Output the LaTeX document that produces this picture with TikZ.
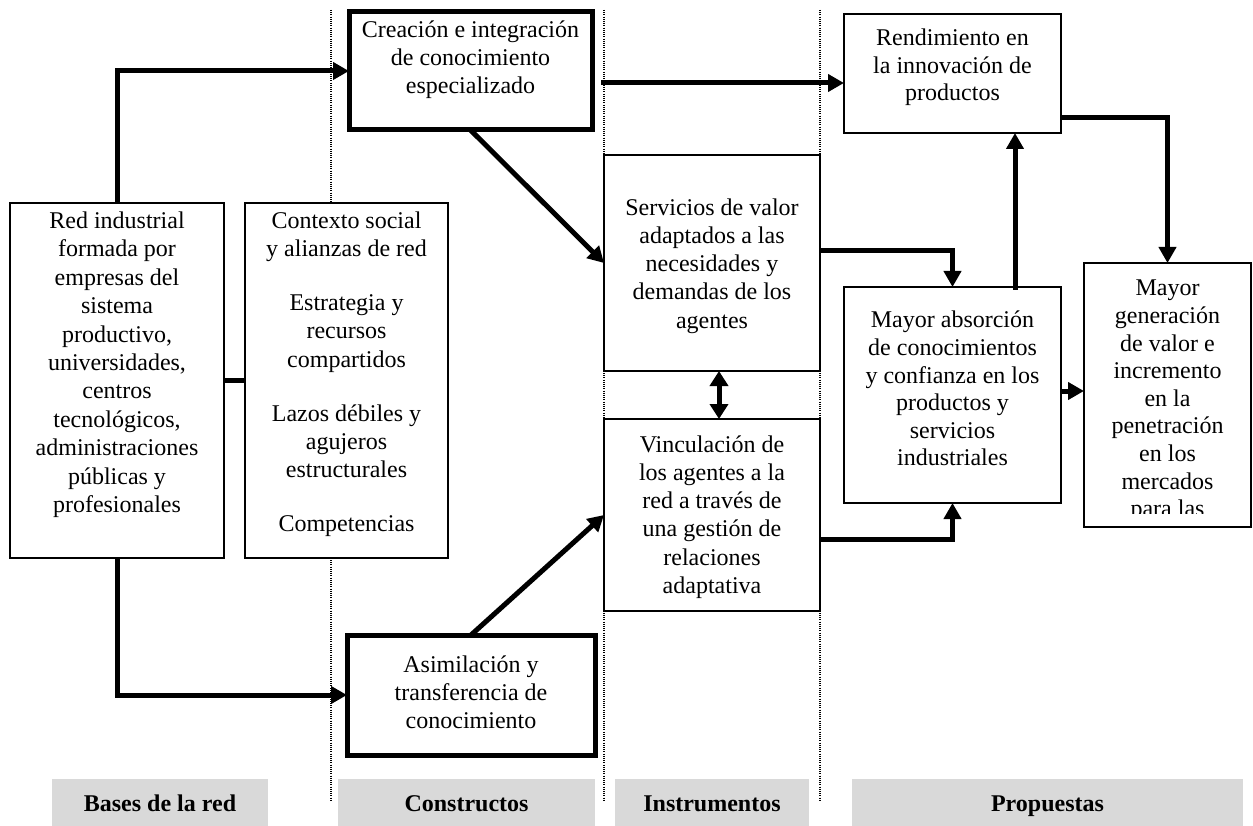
\documentclass[tikz,border=0pt]{standalone}
\usepackage{fontspec}
\setmainfont{Liberation Serif}
\usetikzlibrary{arrows.meta,calc}
\definecolor{bandgray}{HTML}{D9D9D9}
\begin{document}
\begin{tikzpicture}[x=1pt,y=-1pt,
  box/.style={draw, line width=1.5pt, fill=white, inner sep=0pt, outer sep=0pt},
  thickbox/.style={box, line width=5pt},
  txt/.style={align=center, inner sep=0pt, anchor=north, font=\fontsize{24}{28.2}\selectfont},
  arr/.style={line width=5pt, -{Triangle[length=16pt,width=17pt]}},
  dbl/.style={line width=5pt, {Triangle[length=15pt,width=18pt]}-{Triangle[length=15pt,width=18pt]}},
  conn/.style={line width=5pt},
  sep/.style={line width=1.3pt, dash pattern=on 1pt off 1.2pt},
  band/.style={fill=bandgray, inner sep=0pt, outer sep=0pt},
  bandtxt/.style={font=\fontsize{24}{28}\selectfont\bfseries, anchor=base, inner sep=0pt}]
\useasboundingbox (0,0) rectangle (1253,826);

% column separators
\draw[sep] (331,10) -- (331,800);
\draw[sep] (604,10) -- (604,802);
\draw[sep] (820,10) -- (820,802);

% boxes
\node[box, minimum width=214pt, minimum height=355pt] (A) at (117,380.5) {};
\node[box, minimum width=203pt, minimum height=355pt] (B) at (346.5,380.5) {};
\node[thickbox, minimum width=243pt, minimum height=118pt] (C) at (470.5,71) {};
\node[box, minimum width=216pt, minimum height=216pt] (D) at (712,263) {};
\node[box, minimum width=216pt, minimum height=192pt] (E) at (712,515) {};
\node[box, minimum width=217pt, minimum height=119pt] (F) at (952.5,73.5) {};
\node[box, minimum width=217pt, minimum height=216pt] (G) at (952.5,395) {};
\node[box, minimum width=167pt, minimum height=264pt] (H) at (1167.5,395) {};
\node[thickbox, minimum width=248pt, minimum height=120pt] (I) at (471,695) {};

% texts
\node[txt, font=\fontsize{24}{28.4}\selectfont] (At) at (117,208.4) {\strut Red industrial\\formada por\\empresas del\\sistema\\productivo,\\universidades,\\centros\\tecnológicos,\\administraciones\\públicas y\\profesionales};
\node[txt] (Bt) at (346.5,208.4) {\strut Contexto social\\y alianzas de red\\[26pt]Estrategia y\\recursos\\compartidos\\[26pt]Lazos débiles y\\agujeros\\estructurales\\[26pt]Competencias};
\node[txt] (Ct) at (470.5,17.4) {\strut Creación e integración\\de conocimiento\\especializado};
\node[txt] (Dt) at (712,195.4) {\strut Servicios de valor\\adaptados a las\\necesidades y\\demandas de los\\agentes};
\node[txt] (Et) at (712,432.4) {\strut Vinculación de\\los agentes a la\\red a través de\\una gestión de\\relaciones\\adaptativa};
\node[txt, font=\fontsize{24}{27.4}\selectfont] (Ft) at (952.5,26.4) {\strut Rendimiento en\\la innovación de\\productos};
\node[txt, font=\fontsize{24}{27.6}\selectfont] (Gt) at (952.5,308.4) {\strut Mayor absorción\\de conocimientos\\y confianza en los\\productos y\\servicios\\industriales};
\begin{scope}
\clip (1084,263) rectangle (1252,513);
\node[txt, font=\fontsize{24}{27.6}\selectfont] (Ht) at (1167.5,276.4) {\strut Mayor\\generación\\de valor e\\incremento\\en la\\penetración\\en los\\mercados\\para las};
\end{scope}
\node[txt] (It) at (471,652.4) {\strut Asimilación y\\transferencia de\\conocimiento};

% connectors
\draw[conn] (A.east) -- (B.west);
\draw[arr] (A.north) |- (C.west);
\draw[arr] (A.south) |- (I.west);
\draw[arr] (C.south) -- (D.west);
\draw[arr] (I.north) -- (E.west);
\draw[dbl] ([xshift=7pt]D.south) -- ([xshift=7pt]E.north);
\draw[arr] ([xshift=9pt,yshift=-12pt]C.east) -- ([yshift=-9.5pt]F.west);
\draw[arr] ([yshift=12pt]D.east) -| (G.north);
\draw[arr] ([yshift=-24pt]E.east) -| (G.south);
\draw[arr] ([xshift=62.5pt,yshift=-3pt]G.north) -- ([xshift=62.5pt]G.north |- F.south);
\draw[arr] ([yshift=-44.5pt]F.east) -| (H.north);
\draw[arr] ([yshift=4pt]G.east) -- ([yshift=4pt]G.east -| H.west);

% bottom bands
\node[band, minimum width=216pt, minimum height=47pt] (L1) at (160,802.5) {};
\node[band, minimum width=257pt, minimum height=47pt] (L2) at (466.5,802.5) {};
\node[band, minimum width=194pt, minimum height=47pt] (L3) at (712,802.5) {};
\node[band, minimum width=391pt, minimum height=47pt] (L4) at (1047.5,802.5) {};
\node[bandtxt] (L1t) at (160,811) {Bases de la red};
\node[bandtxt] (L2t) at (466.5,811) {Constructos};
\node[bandtxt] (L3t) at (712,811) {Instrumentos};
\node[bandtxt] (L4t) at (1047.5,811) {Propuestas};
\end{tikzpicture}
\end{document}
